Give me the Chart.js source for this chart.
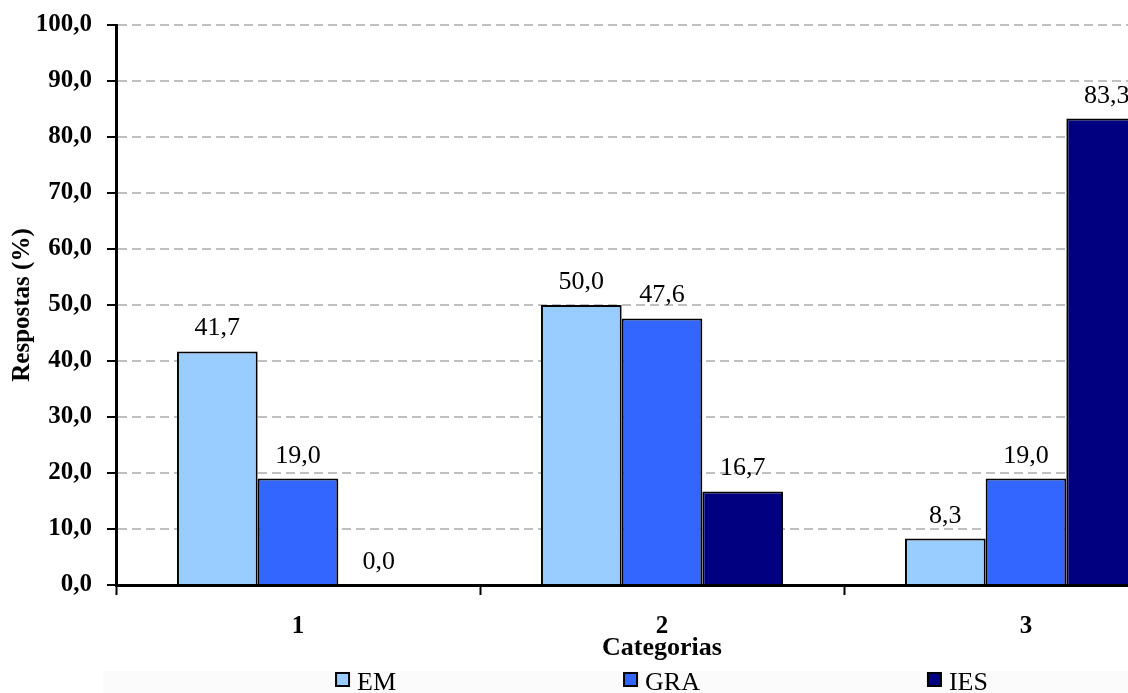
<!DOCTYPE html>
<html>
<head>
<meta charset="utf-8">
<script src="https://cdn.jsdelivr.net/npm/chart.js@4/dist/chart.umd.min.js"></script>
<style>
  html, body { margin: 0; padding: 0; background: #ffffff; overflow: hidden; }
  #wrap { position: relative; width: 1220px; height: 700px; }
</style>
</head>
<body>
<div id="wrap"><canvas id="chart" width="1220" height="700"></canvas></div>
<script>
// Categories and answer shares (%) per group
const categories = ['1', '2', '3'];
const seriesNames = ['EM', 'GRA', 'IES'];
const emValues = [41.7, 50.0, 8.3];
const graValues = [19.0, 47.6, 19.0];
const iesValues = [0.0, 16.7, 83.3];
const yAxisTitle = 'Respostas (%)';
const xAxisTitle = 'Categorias';

const seriesColors = ['#99ccff', '#3366ff', '#000080'];
const SERIF = "'Liberation Serif', 'Times New Roman', serif";

const fmt = v => Number(v).toFixed(1).replace('.', ',');

// Value labels above every bar
const valueLabels = {
  id: 'valueLabels',
  afterDatasetsDraw(chart) {
    const ctx = chart.ctx;
    ctx.save();
    ctx.font = '26px ' + SERIF;
    ctx.fillStyle = '#000000';
    ctx.textAlign = 'center';
    ctx.textBaseline = 'alphabetic';
    chart.data.datasets.forEach((ds, di) => {
      const meta = chart.getDatasetMeta(di);
      meta.data.forEach((bar, i) => {
        ctx.fillText(fmt(ds.data[i]), bar.x, bar.y - 16);
      });
    });
    ctx.restore();
  }
};

// Legend row under the axis title, centred on the plot area
const bottomLegend = {
  id: 'bottomLegend',
  afterDraw(chart) {
    const ctx = chart.ctx;
    const area = chart.chartArea;
    const xScale = chart.scales.x;
    const box = 13, gap = 8, spacing = 228;
    ctx.save();
    ctx.font = '26px ' + SERIF;
    const items = chart.data.datasets.map(ds => ({
      label: ds.label,
      color: ds.backgroundColor,
      w: box + gap + ctx.measureText(ds.label).width
    }));
    const total = items.reduce((s, it) => s + it.w, 0) + spacing * (items.length - 1);
    const top = xScale.bottom + 7;
    // faint legend panel
    ctx.fillStyle = '#fbfbfb';
    ctx.fillRect(103, top - 1, 1118, chart.height - top + 1);
    let x = (area.left + area.right) / 2 - total / 2;
    items.forEach(it => {
      ctx.fillStyle = it.color;
      ctx.fillRect(x, top + 1, box, box);
      ctx.strokeStyle = '#000000';
      ctx.lineWidth = 2;
      ctx.strokeRect(x, top + 1, box, box);
      ctx.fillStyle = '#000000';
      ctx.textAlign = 'left';
      ctx.textBaseline = 'middle';
      ctx.fillText(it.label, x + box + gap, top + 11);
      x += it.w + spacing;
    });
    ctx.restore();
  }
};

const seriesValues = [emValues, graValues, iesValues];

new Chart(document.getElementById('chart'), {
  type: 'bar',
  data: {
    labels: categories,
    datasets: seriesNames.map((name, i) => ({
      label: name,
      data: seriesValues[i],
      backgroundColor: seriesColors[i],
      borderColor: '#000000',
      borderWidth: 2,
      barPercentage: 1.0,
      categoryPercentage: 0.665
    }))
  },
  options: {
    responsive: false,
    animation: false,
    layout: { padding: { left: 0, top: 25, right: 12, bottom: 35 } },
    plugins: {
      legend: { display: false },
      tooltip: { enabled: false },
      title: { display: false }
    },
    scales: {
      x: {
        offset: true,
        afterFit: s => { s.height = 80; },
        grid: {
          offset: true,
          drawOnChartArea: false,
          drawTicks: true,
          tickLength: 10,
          tickColor: '#000000',
          tickWidth: 2
        },
        border: { display: true, color: '#000000', width: 3 },
        ticks: {
          color: '#000000',
          padding: 17,
          font: { family: SERIF, size: 25, weight: 'bold' }
        },
        title: {
          display: true,
          text: xAxisTitle,
          color: '#000000',
          font: { family: SERIF, size: 26, weight: 'bold' },
          padding: { top: 0, bottom: 1 }
        }
      },
      y: {
        min: 0,
        max: 100,
        afterFit: s => { s.width = 116; s.paddingTop = 0; s.paddingBottom = 0; },
        grid: {
          color: '#c0c0c0',
          lineWidth: 2,
          tickColor: '#000000',
          tickWidth: 2,
          tickLength: 9,
          tickBorderDash: []
        },
        border: { display: true, color: '#000000', width: 3, dash: [9, 5] },
        ticks: {
          stepSize: 10,
          color: '#000000',
          padding: 15,
          font: { family: SERIF, size: 25, weight: 'bold' },
          callback: v => fmt(v)
        },
        title: {
          display: true,
          text: yAxisTitle,
          color: '#000000',
          font: { family: SERIF, size: 25, weight: 'bold' },
          padding: { top: 8, bottom: 0 }
        }
      }
    }
  },
  plugins: [valueLabels, bottomLegend]
});
</script>
</body>
</html>
